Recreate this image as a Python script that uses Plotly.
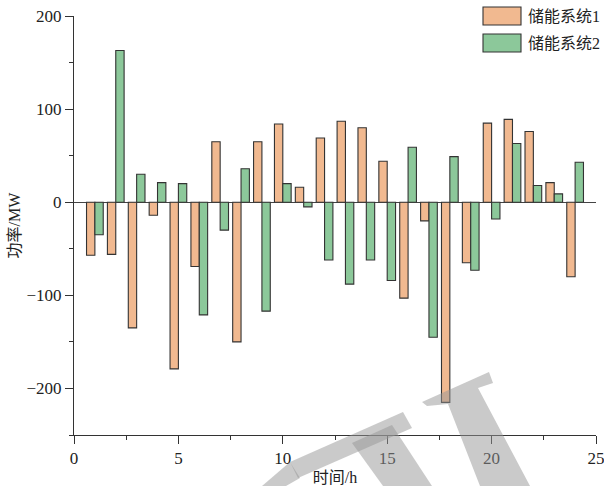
import plotly.graph_objects as go

# Hourly charge/discharge power of two storage systems (MW)
hours = list(range(1, 25))
series_names = ["储能系统1", "储能系统2"]
series_colors = ["#F1B990", "#8CC89A"]
ess1_power = [-57, -56, -135, -14, -179, -69, 65, -150, 65, 84, 16, 69,
              87, 80, 44, -103, -20, -215, -65, 85, 89, 76, 21, -80]
ess2_power = [-35, 163, 30, 21, 20, -121, -30, 36, -117, 20, -5, -62,
              -88, -62, -84, 59, -145, 49, -73, -18, 63, 18, 9, 43]
series_values = [ess1_power, ess2_power]

y_ticks = [-200, -100, 0, 100, 200]
x_ticks = [0, 5, 10, 15, 20, 25]

FONT = "'Liberation Serif', 'Times New Roman', 'Noto Sans CJK SC', serif"
W, H = 604, 486
L, R, T, B = 74, 8, 16, 51
PW, PH = W - L - R, H - T - B


def px_to_paper(px, py):
    return (px - L) / PW, (H - B - py) / PH


fig = go.Figure()
for name, color, vals in zip(series_names, series_colors, series_values):
    fig.add_trace(go.Bar(
        x=hours, y=vals, name=name,
        marker=dict(color=color, line=dict(color="#333333", width=1.1)),
        showlegend=False,
    ))

# Hand-drawn legend with large swatches
shapes = []
annotations = []
for i, (name, color) in enumerate(zip(series_names, series_colors)):
    top = 7 + i * 27
    x0, y0 = px_to_paper(483, top + 18)
    x1, y1 = px_to_paper(521, top)
    shapes.append(dict(type="rect", xref="paper", yref="paper",
                       x0=x0, y0=y0, x1=x1, y1=y1,
                       fillcolor=color, line=dict(color="#333333", width=1.1)))
    tx, ty = px_to_paper(526, top + 9)
    annotations.append(dict(xref="paper", yref="paper", x=tx, y=ty,
                            xanchor="left", yanchor="middle", showarrow=False,
                            text=name, font=dict(family=FONT, size=16, color="#222")))

# Faint grey lettering in the lower part of the figure
marks = [
    [(262, 486), (290, 462), (300, 478), (286, 486)],
    [(290, 462), (403, 412), (412, 428), (298, 478)],
    [(352, 443), (392, 425), (432, 486), (383, 486)],
    [(422, 402), (489, 372), (493, 383), (478, 388), (530, 486),
     (480, 486), (448, 404), (427, 406)],
]
for poly in marks:
    pts = [px_to_paper(*p) for p in poly]
    path = "M" + " L".join(f"{x:.4f},{y:.4f}" for x, y in pts) + " Z"
    shapes.append(dict(type="path", xref="paper", yref="paper", path=path,
                       fillcolor="rgba(150,150,150,0.5)", line=dict(width=0),
                       layer="above"))

fig.update_layout(
    width=W, height=H,
    margin=dict(l=L, r=R, t=T, b=B, autoexpand=False),
    paper_bgcolor="white", plot_bgcolor="white",
    barmode="group", bargap=0.2, bargroupgap=0,
    font=dict(family=FONT, size=16, color="#222"),
    shapes=shapes, annotations=annotations,
    xaxis=dict(
        range=[0, 25], tickvals=x_ticks, ticks="outside", ticklen=8,
        tickwidth=1.1, tickcolor="#333", showline=True, linecolor="#333",
        linewidth=1.1, showgrid=False, zeroline=False,
        ticklabeloverflow="allow",
        minor=dict(dtick=2.5, tick0=0, ticks="outside", ticklen=4,
                   tickcolor="#333", tickwidth=1.1, showgrid=False),
        tickfont=dict(family=FONT, size=17),
        title=dict(text="时间/h", font=dict(family=FONT, size=16), standoff=5),
    ),
    yaxis=dict(
        range=[-250, 200], tickvals=y_ticks, ticks="outside", ticklen=8,
        tickwidth=1.1, tickcolor="#333", showline=True, linecolor="#333",
        linewidth=1.1, showgrid=False,
        zeroline=True, zerolinecolor="#444", zerolinewidth=1.1,
        minor=dict(dtick=50, tick0=0, ticks="outside", ticklen=4,
                   tickcolor="#333", tickwidth=1.1, showgrid=False),
        tickfont=dict(family=FONT, size=17),
        title=dict(text="功率/MW", font=dict(family=FONT, size=16), standoff=1),
    ),
)

fig.write_html("out.html")
